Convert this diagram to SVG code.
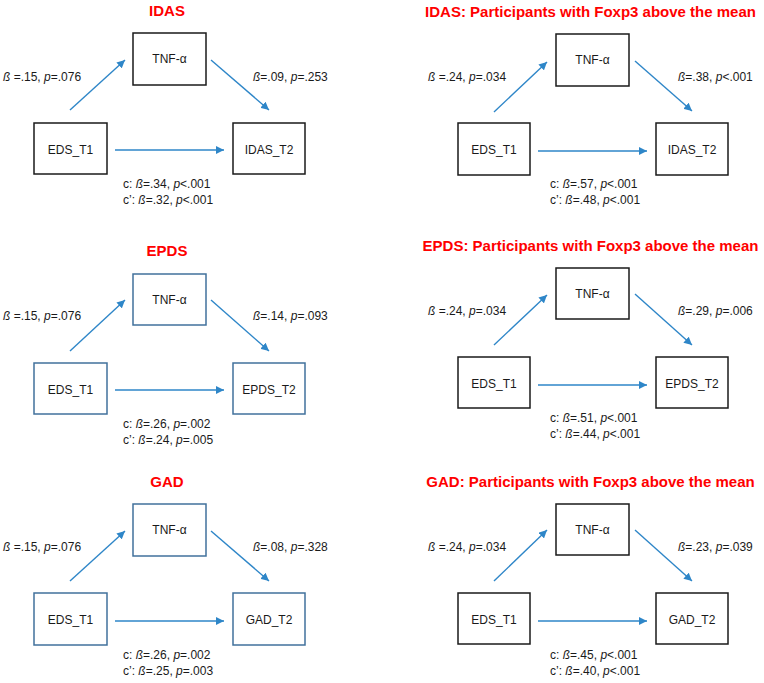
<svg xmlns="http://www.w3.org/2000/svg" width="764" height="683" viewBox="0 0 764 683">
<style>
.bg{fill:#ffffff}
.box{fill:#ffffff;stroke:#1a1a1a;stroke-width:1.5}
.boxb{fill:#ffffff;stroke:#41719C;stroke-width:1.5}
.node{font-family:"Liberation Sans",Arial,sans-serif;font-size:12px;fill:#1a1a1a;text-anchor:middle}
.title{font-family:"Liberation Sans",Arial,sans-serif;font-size:15px;font-weight:bold;fill:#FF0000;text-anchor:middle}
.lab{font-family:"Liberation Sans",Arial,sans-serif;font-size:12px;fill:#1a1a1a}
.cl{font-family:"Liberation Sans",Arial,sans-serif;font-size:12px;fill:#1a1a1a}
.i{font-style:italic}
.arr{stroke:#2E86C8;stroke-width:1.4;fill:none;marker-end:url(#ah)}
</style>
<defs>
<marker id="ah" markerUnits="userSpaceOnUse" markerWidth="9" markerHeight="8" refX="8" refY="4" orient="auto">
<path d="M0,0 L8,4 L0,8 Z" fill="#2E86C8"/>
</marker>
</defs>
<rect class="bg" x="0" y="0" width="764" height="683"/>

<!-- Panel 1: IDAS -->
<g id="panel-idas" transform="translate(0,33)">
<text class="title" x="167" y="-17">IDAS</text>
<g class="connectors">
<line class="arr" x1="70" y1="77" x2="125" y2="27"/>
<line class="arr" x1="211" y1="27" x2="269" y2="77"/>
<line class="arr" x1="115" y1="117" x2="224" y2="117"/>
</g>
<g id="p1-tnf"><rect class="box" x="133" y="0" width="73" height="52"/><text class="node" x="169.5" y="30">TNF-α</text></g>
<g id="p1-eds"><rect class="box" x="34" y="90" width="73" height="51"/><text class="node" x="70.5" y="121">EDS_T1</text></g>
<g id="p1-out"><rect class="box" x="233" y="90" width="72" height="51"/><text class="node" x="269" y="121">IDAS_T2</text></g>
<text class="lab" x="3" y="48"><tspan class="i">ß</tspan> =.15, <tspan class="i">p</tspan>=.076</text>
<text class="lab" x="253" y="48"><tspan class="i">ß</tspan>=.09, <tspan class="i">p</tspan>=.253</text>
<text class="cl" x="123" y="155">c: <tspan class="i">ß</tspan>=.34, <tspan class="i">p</tspan>&lt;.001</text>
<text class="cl" x="123" y="171">c’: <tspan class="i">ß</tspan>=.32, <tspan class="i">p</tspan>&lt;.001</text>
</g>

<!-- Panel 2: IDAS Foxp3 -->
<g id="panel-idas-foxp3" transform="translate(423,34)">
<text class="title" x="167.5" y="-17">IDAS: Participants with Foxp3 above the mean</text>
<g class="connectors">
<line class="arr" x1="71" y1="78" x2="124" y2="28"/>
<line class="arr" x1="212" y1="27" x2="269" y2="77"/>
<line class="arr" x1="115" y1="117" x2="224" y2="117"/>
</g>
<g id="p2-tnf"><rect class="box" x="133" y="0" width="73" height="52"/><text class="node" x="169.5" y="30">TNF-α</text></g>
<g id="p2-eds"><rect class="box" x="35" y="89" width="72" height="52"/><text class="node" x="71" y="120">EDS_T1</text></g>
<g id="p2-out"><rect class="box" x="233" y="89" width="72" height="52"/><text class="node" x="269" y="120">IDAS_T2</text></g>
<text class="lab" x="5" y="47"><tspan class="i">ß</tspan> =.24, <tspan class="i">p</tspan>=.034</text>
<text class="lab" x="255" y="47"><tspan class="i">ß</tspan>=.38, <tspan class="i">p</tspan>&lt;.001</text>
<text class="cl" x="127" y="154">c: <tspan class="i">ß</tspan>=.57, <tspan class="i">p</tspan>&lt;.001</text>
<text class="cl" x="127" y="170">c’: <tspan class="i">ß</tspan>=.48, <tspan class="i">p</tspan>&lt;.001</text>
</g>

<!-- Panel 3: EPDS -->
<g id="panel-epds" transform="translate(0,274)">
<text class="title" x="167" y="-18">EPDS</text>
<g class="connectors">
<line class="arr" x1="70" y1="77" x2="125" y2="26"/>
<line class="arr" x1="211" y1="26" x2="269" y2="77"/>
<line class="arr" x1="115" y1="116" x2="224" y2="116"/>
</g>
<g id="p3-tnf"><rect class="boxb" x="133" y="0" width="73" height="51"/><text class="node" x="169.5" y="30">TNF-α</text></g>
<g id="p3-eds"><rect class="boxb" x="34" y="89" width="73" height="51"/><text class="node" x="70.5" y="120">EDS_T1</text></g>
<g id="p3-out"><rect class="boxb" x="233" y="89" width="72" height="51"/><text class="node" x="269" y="120">EPDS_T2</text></g>
<text class="lab" x="3" y="46"><tspan class="i">ß</tspan> =.15, <tspan class="i">p</tspan>=.076</text>
<text class="lab" x="253" y="46"><tspan class="i">ß</tspan>=.14, <tspan class="i">p</tspan>=.093</text>
<text class="cl" x="123" y="154">c: <tspan class="i">ß</tspan>=.26, <tspan class="i">p</tspan>=.002</text>
<text class="cl" x="123" y="170">c’: <tspan class="i">ß</tspan>=.24, <tspan class="i">p</tspan>=.005</text>
</g>

<!-- Panel 4: EPDS Foxp3 -->
<g id="panel-epds-foxp3" transform="translate(423,268)">
<text class="title" x="167.5" y="-17">EPDS: Participants with Foxp3 above the mean</text>
<g class="connectors">
<line class="arr" x1="71" y1="77" x2="124" y2="27"/>
<line class="arr" x1="212" y1="26" x2="269" y2="77"/>
<line class="arr" x1="115" y1="117" x2="224" y2="117"/>
</g>
<g id="p4-tnf"><rect class="box" x="133" y="0" width="73" height="51"/><text class="node" x="169.5" y="30">TNF-α</text></g>
<g id="p4-eds"><rect class="box" x="35" y="89" width="72" height="51"/><text class="node" x="71" y="120">EDS_T1</text></g>
<g id="p4-out"><rect class="box" x="233" y="89" width="72" height="51"/><text class="node" x="269" y="120">EPDS_T2</text></g>
<text class="lab" x="5" y="47"><tspan class="i">ß</tspan> =.24, <tspan class="i">p</tspan>=.034</text>
<text class="lab" x="255" y="47"><tspan class="i">ß</tspan>=.29, <tspan class="i">p</tspan>=.006</text>
<text class="cl" x="127" y="154">c: <tspan class="i">ß</tspan>=.51, <tspan class="i">p</tspan>&lt;.001</text>
<text class="cl" x="127" y="170">c’: <tspan class="i">ß</tspan>=.44, <tspan class="i">p</tspan>&lt;.001</text>
</g>

<!-- Panel 5: GAD -->
<g id="panel-gad" transform="translate(0,504)">
<text class="title" x="167" y="-17">GAD</text>
<g class="connectors">
<line class="arr" x1="70" y1="77" x2="125" y2="27"/>
<line class="arr" x1="211" y1="27" x2="269" y2="77"/>
<line class="arr" x1="115" y1="117" x2="224" y2="117"/>
</g>
<g id="p5-tnf"><rect class="boxb" x="133" y="0" width="73" height="52"/><text class="node" x="169.5" y="30">TNF-α</text></g>
<g id="p5-eds"><rect class="boxb" x="34" y="89" width="73" height="52"/><text class="node" x="70.5" y="120">EDS_T1</text></g>
<g id="p5-out"><rect class="boxb" x="233" y="89" width="72" height="52"/><text class="node" x="269" y="120">GAD_T2</text></g>
<text class="lab" x="3" y="47"><tspan class="i">ß</tspan> =.15, <tspan class="i">p</tspan>=.076</text>
<text class="lab" x="253" y="47"><tspan class="i">ß</tspan>=.08, <tspan class="i">p</tspan>=.328</text>
<text class="cl" x="123" y="155">c: <tspan class="i">ß</tspan>=.26, <tspan class="i">p</tspan>=.002</text>
<text class="cl" x="123" y="171">c’: <tspan class="i">ß</tspan>=.25, <tspan class="i">p</tspan>=.003</text>
</g>

<!-- Panel 6: GAD Foxp3 -->
<g id="panel-gad-foxp3" transform="translate(423,504)">
<text class="title" x="167.5" y="-17">GAD: Participants with Foxp3 above the mean</text>
<g class="connectors">
<line class="arr" x1="71" y1="77" x2="124" y2="26"/>
<line class="arr" x1="212" y1="26" x2="269" y2="77"/>
<line class="arr" x1="115" y1="117" x2="224" y2="117"/>
</g>
<g id="p6-tnf"><rect class="box" x="133" y="0" width="73" height="51"/><text class="node" x="169.5" y="30">TNF-α</text></g>
<g id="p6-eds"><rect class="box" x="35" y="89" width="72" height="51"/><text class="node" x="71" y="120">EDS_T1</text></g>
<g id="p6-out"><rect class="box" x="233" y="89" width="72" height="51"/><text class="node" x="269" y="120">GAD_T2</text></g>
<text class="lab" x="5" y="47"><tspan class="i">ß</tspan> =.24, <tspan class="i">p</tspan>=.034</text>
<text class="lab" x="255" y="47"><tspan class="i">ß</tspan>=.23, <tspan class="i">p</tspan>=.039</text>
<text class="cl" x="127" y="155">c: <tspan class="i">ß</tspan>=.45, <tspan class="i">p</tspan>&lt;.001</text>
<text class="cl" x="127" y="171">c’: <tspan class="i">ß</tspan>=.40, <tspan class="i">p</tspan>&lt;.001</text>
</g>
</svg>
